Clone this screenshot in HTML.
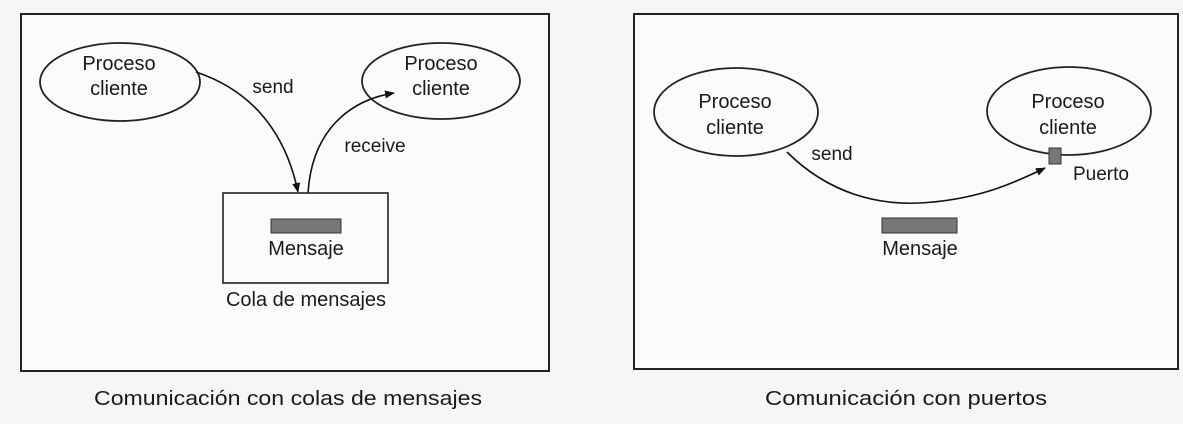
<!DOCTYPE html>
<html><head><meta charset="utf-8"><style>
html,body{margin:0;padding:0;background:#f6f6f6;}
svg{display:block;}
text{font-family:"Liberation Sans",Arial,sans-serif;fill:#1a1a1a;}
</style></head><body>
<svg width="1183" height="424" viewBox="0 0 1183 424" xmlns="http://www.w3.org/2000/svg">
<defs>
<marker id="ah" markerWidth="10" markerHeight="8" refX="9" refY="4" orient="auto" markerUnits="userSpaceOnUse">
<path d="M0,0 L10,4 L0,8 Z" fill="#111"/>
</marker>
</defs>
<!-- Left panel -->
<rect x="21" y="14" width="528" height="357" fill="#fbfbfb" stroke="#222" stroke-width="2"/>
<ellipse cx="120" cy="82" rx="80" ry="39" fill="none" stroke="#222" stroke-width="1.8"/>
<ellipse cx="441" cy="81" rx="79" ry="38" fill="none" stroke="#222" stroke-width="1.8"/>
<text x="119" y="70" font-size="20" text-anchor="middle">Proceso</text>
<text x="119" y="95" font-size="20" text-anchor="middle">cliente</text>
<text x="441" y="70" font-size="20" text-anchor="middle">Proceso</text>
<text x="441" y="95" font-size="20" text-anchor="middle">cliente</text>
<path d="M196,72 C250,90 285,130 298,192" fill="none" stroke="#111" stroke-width="1.6" marker-end="url(#ah)"/>
<path d="M308,193 C312,130 350,100 394,93" fill="none" stroke="#111" stroke-width="1.6" marker-end="url(#ah)"/>
<text x="273" y="93" font-size="19" text-anchor="middle">send</text>
<text x="375" y="152" font-size="19" text-anchor="middle">receive</text>
<rect x="223" y="193" width="165" height="90" fill="#fbfbfb" stroke="#222" stroke-width="1.6"/>
<rect x="271" y="219" width="70" height="14" fill="#777" stroke="#333" stroke-width="1"/>
<text x="306" y="255" font-size="20" text-anchor="middle">Mensaje</text>
<text x="306" y="306" font-size="20" text-anchor="middle">Cola de mensajes</text>
<text x="288" y="405" font-size="20" text-anchor="middle" textLength="388" lengthAdjust="spacingAndGlyphs">Comunicación con colas de mensajes</text>
<!-- Right panel -->
<rect x="634" y="14" width="544" height="355" fill="#fbfbfb" stroke="#222" stroke-width="2"/>
<ellipse cx="736" cy="112" rx="82" ry="44" fill="none" stroke="#222" stroke-width="1.8"/>
<ellipse cx="1069" cy="111" rx="82" ry="44" fill="none" stroke="#222" stroke-width="1.8"/>
<text x="735" y="108" font-size="20" text-anchor="middle">Proceso</text>
<text x="735" y="134" font-size="20" text-anchor="middle">cliente</text>
<text x="1068" y="108" font-size="20" text-anchor="middle">Proceso</text>
<text x="1068" y="134" font-size="20" text-anchor="middle">cliente</text>
<path d="M787,152 C830,195 880,205 920,203 C975,200 1010,185 1045,168" fill="none" stroke="#111" stroke-width="1.6" marker-end="url(#ah)"/>
<rect x="1049" y="148" width="12" height="16" fill="#777" stroke="#333" stroke-width="1"/>
<text x="832" y="160" font-size="19" text-anchor="middle">send</text>
<text x="1101" y="180" font-size="19" text-anchor="middle">Puerto</text>
<rect x="882" y="218" width="75" height="15" fill="#777" stroke="#333" stroke-width="1"/>
<text x="920" y="255" font-size="20" text-anchor="middle">Mensaje</text>
<text x="906" y="405" font-size="20" text-anchor="middle" textLength="282" lengthAdjust="spacingAndGlyphs">Comunicación con puertos</text>
</svg>
</body></html>
